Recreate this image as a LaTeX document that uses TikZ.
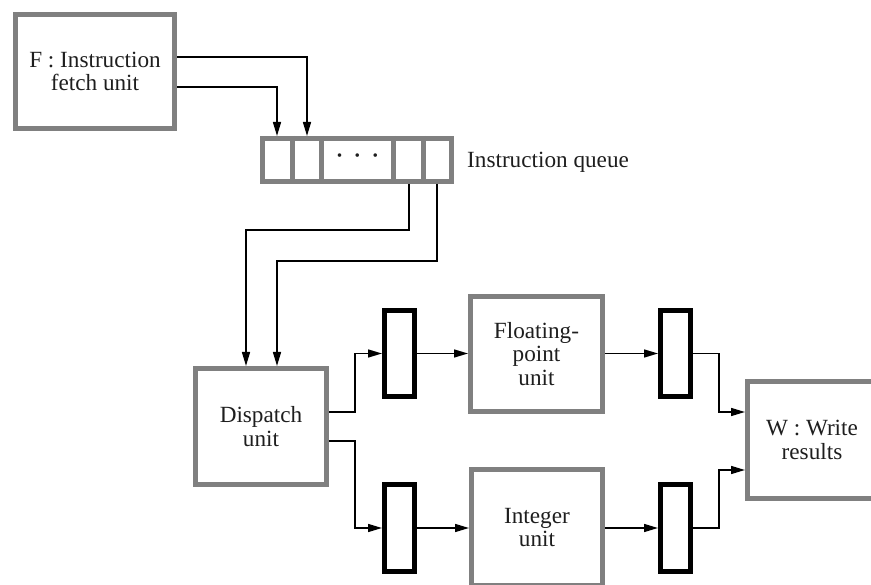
\documentclass[tikz,border=0pt]{standalone}
\usepackage{fontspec}
\setmainfont{Liberation Serif}
\usetikzlibrary{arrows.meta}
\definecolor{boxgray}{RGB}{128,128,128}
\definecolor{inkgray}{RGB}{30,30,30}
\begin{document}
\begin{tikzpicture}[x=1pt,y=-1pt,
  unitbox/.style={draw=boxgray,line width=5pt,rectangle,align=center,inner sep=0pt,
    text=inkgray,font=\fontsize{23.2}{23.5}\selectfont},
  regbox/.style={draw=black,line width=5pt,rectangle,inner sep=0pt,minimum width=30pt,minimum height=86pt},
  sep/.style={draw=boxgray,line width=5pt},
  arr/.style={draw=black,line width=1.5pt,-{Triangle[length=14pt,width=8pt]}},
  lbl/.style={font=\fontsize{23.2}{23.5}\selectfont,text=inkgray,inner sep=0pt}]
\useasboundingbox (0,0) rectangle (871,585);
\clip (0,0) rectangle (871,585);
% boxes
\node[unitbox,minimum width=159pt,minimum height=114pt] (F) at (95,71.5) {F : Instruction\\fetch unit};
\node[unitbox,minimum width=189pt,minimum height=43pt] (queue) at (357,160) {};
\node[unitbox,minimum width=131pt,minimum height=116pt] (dispatch) at (261,426.5) {Dispatch\\unit};
\node[unitbox,minimum width=132pt,minimum height=115pt] (fp) at (536.5,354) {Floating-\\point\\unit};
\node[unitbox,minimum width=131pt,minimum height=116pt] (int) at (537,527.5) {Integer\\unit};
\node[unitbox,minimum width=129pt,minimum height=117pt] (w) at (812,440) {W : Write\\results};
\node[regbox] (r1) at (399.5,353.5) {};
\node[regbox] (r2) at (399.5,528) {};
\node[regbox] (r3) at (675.5,353.5) {};
\node[regbox] (r4) at (675.5,528) {};
% queue cells
\foreach \dx in {-65,-36,36,66.5}
  \draw[sep] ([xshift=\dx pt]queue.north) -- ([xshift=\dx pt]queue.south);
\node[lbl,font=\fontsize{30}{30}\selectfont] (dots) at (357.5,160) {·\hspace{8pt}·\hspace{8pt}·};
\node[lbl,anchor=west] (qlabel) at ([xshift=13pt,yshift=-2pt]queue.east) {Instruction queue};
% connectors
\draw[arr] ([yshift=14.5pt]F.east) -| ([xshift=-50pt]queue.north);
\draw[arr] ([yshift=-15.5pt]F.east) -| ([xshift=-80pt]queue.north);
\draw[arr] ([xshift=52pt]queue.south) -- ++(0,46) -| ([xshift=-15pt]dispatch.north);
\draw[arr] ([xshift=80pt]queue.south) -- ++(0,77) -| ([xshift=16pt]dispatch.north);
\draw[arr] ([yshift=14.5pt]dispatch.east) -- ++(26,0) |- (r1.west);
\draw[arr] ([yshift=-14.5pt]dispatch.east) -- ++(26,0) |- (r2.west);
\draw[arr] (r1.east) -- (fp.west |- r1.east);
\draw[arr] (r2.east) -- (int.west |- r2.east);
\draw[arr] (fp.east |- r3.west) -- (r3.west);
\draw[arr] (int.east |- r4.west) -- (r4.west);
\draw[arr] (r3.east) -- ++(26,0) |- ([yshift=28pt]w.west);
\draw[arr] (r4.east) -- ++(26,0) |- ([yshift=-30pt]w.west);
\end{tikzpicture}
\end{document}
